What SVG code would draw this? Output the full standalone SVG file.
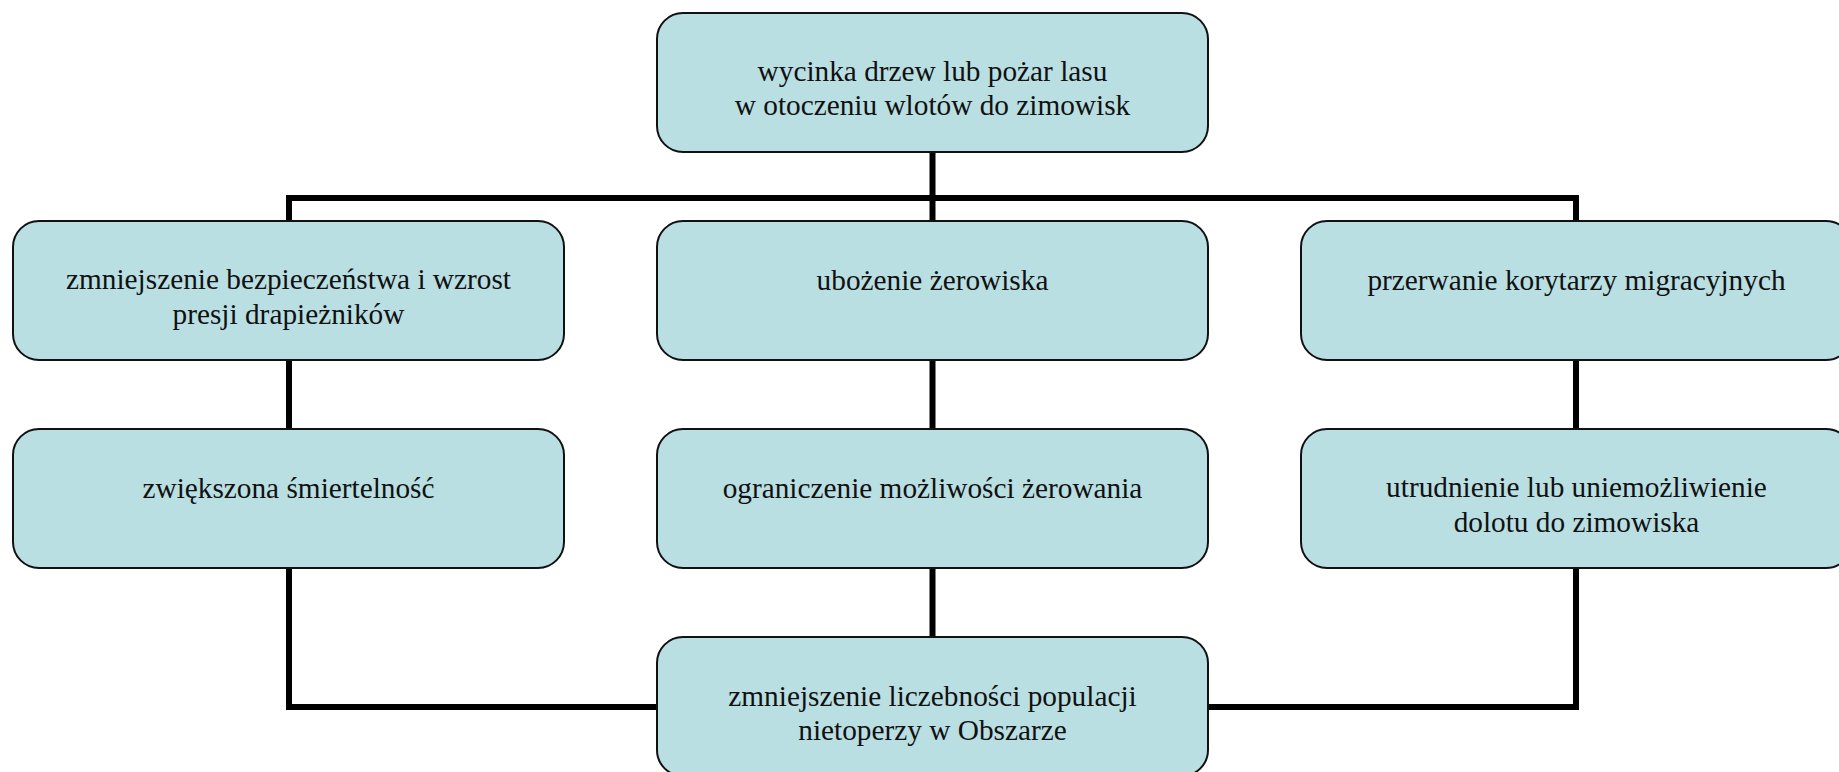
<svg xmlns="http://www.w3.org/2000/svg" width="1839" height="772" viewBox="0 0 1839 772">
<defs>
<style>
.box{fill:#B9DFE3;stroke:#111;stroke-width:2}
.lbl{font-family:"Liberation Serif","Times New Roman",serif;font-size:29.3px;fill:#111;text-anchor:middle}
.con{fill:none;stroke:#000;stroke-width:6;stroke-linejoin:miter;stroke-linecap:butt}
</style>
</defs>
<rect width="1839" height="772" fill="#fff"/>
<g id="connectors">
<path class="con" d="M932.5 152V221"/>
<path class="con" d="M289 221V198H1576V221"/>
<path class="con" d="M289 360V429"/>
<path class="con" d="M932.5 360V429"/>
<path class="con" d="M1576 360V429"/>
<path class="con" d="M932.5 568V637"/>
<path class="con" d="M289 568V707H657"/>
<path class="con" d="M1208 707H1576V565"/>
</g>
<g id="n-top">
<rect class="box" x="657" y="13" width="551" height="139" rx="26"/>
<text class="lbl" x="932.5" y="81">wycinka drzew lub pożar lasu</text>
<text class="lbl" x="932.5" y="115">w otoczeniu wlotów do zimowisk</text>
</g>
<g id="n-bezp">
<rect class="box" x="13" y="221" width="551" height="139" rx="26"/>
<text class="lbl" x="288.5" y="289">zmniejszenie bezpieczeństwa i wzrost</text>
<text class="lbl" x="288.5" y="324">presji drapieżników</text>
</g>
<g id="n-zerow">
<rect class="box" x="657" y="221" width="551" height="139" rx="26"/>
<text class="lbl" x="932.5" y="290">ubożenie żerowiska</text>
</g>
<g id="n-kory">
<rect class="box" x="1301" y="221" width="551" height="139" rx="26"/>
<text class="lbl" x="1576.5" y="290">przerwanie korytarzy migracyjnych</text>
</g>
<g id="n-smiert">
<rect class="box" x="13" y="429" width="551" height="139" rx="26"/>
<text class="lbl" x="288.5" y="498">zwiększona śmiertelność</text>
</g>
<g id="n-ogran">
<rect class="box" x="657" y="429" width="551" height="139" rx="26"/>
<text class="lbl" x="932.5" y="498">ograniczenie możliwości żerowania</text>
</g>
<g id="n-dolot">
<rect class="box" x="1301" y="429" width="551" height="139" rx="26"/>
<text class="lbl" x="1576.5" y="497">utrudnienie lub uniemożliwienie</text>
<text class="lbl" x="1576.5" y="532">dolotu do zimowiska</text>
</g>
<g id="n-popul">
<rect class="box" x="657" y="637" width="551" height="139" rx="26"/>
<text class="lbl" x="932.5" y="706">zmniejszenie liczebności populacji</text>
<text class="lbl" x="932.5" y="740">nietoperzy w Obszarze</text>
</g>
</svg>
